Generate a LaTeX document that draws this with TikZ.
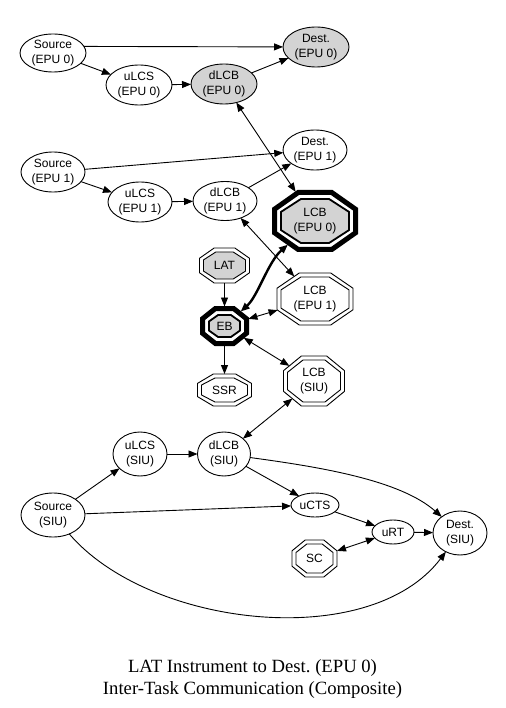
\documentclass[tikz,border=0pt]{standalone}
\usepackage{fontspec}
\setmainfont{Liberation Sans}
\newfontfamily\capfont{Liberation Serif}
\usetikzlibrary{arrows.meta,shapes.geometric}
\frenchspacing
\makeatletter
\pgfdeclareshape{gvoct}{%
  \inheritsavedanchors[from=rectangle]%
  \inheritanchor[from=rectangle]{center}%
  \inheritanchor[from=rectangle]{north}%
  \inheritanchor[from=rectangle]{south}%
  \inheritanchor[from=rectangle]{east}%
  \inheritanchor[from=rectangle]{west}%
  \inheritanchor[from=rectangle]{text}%
  \inheritanchor[from=rectangle]{base}%
  \inheritanchor[from=rectangle]{mid}%
  \backgroundpath{%
    \southwest\edef\gv@xa{\the\pgf@x}\edef\gv@ya{\the\pgf@y}%
    \northeast\edef\gv@xb{\the\pgf@x}\edef\gv@yb{\the\pgf@y}%
    \pgf@xc=\gv@xb\relax\advance\pgf@xc by-\gv@xa\relax\pgf@xc=0.293\pgf@xc
    \pgf@yc=\gv@yb\relax\advance\pgf@yc by-\gv@ya\relax\pgf@yc=0.293\pgf@yc
    \pgf@x=\gv@xa\relax\advance\pgf@x by\pgf@xc\edef\gv@xl{\the\pgf@x}%
    \pgf@x=\gv@xb\relax\advance\pgf@x by-\pgf@xc\edef\gv@xr{\the\pgf@x}%
    \pgf@y=\gv@ya\relax\advance\pgf@y by\pgf@yc\edef\gv@yl{\the\pgf@y}%
    \pgf@y=\gv@yb\relax\advance\pgf@y by-\pgf@yc\edef\gv@yu{\the\pgf@y}%
    \pgfpathmoveto{\pgfqpoint{\gv@xl}{\gv@ya}}%
    \pgfpathlineto{\pgfqpoint{\gv@xr}{\gv@ya}}%
    \pgfpathlineto{\pgfqpoint{\gv@xb}{\gv@yl}}%
    \pgfpathlineto{\pgfqpoint{\gv@xb}{\gv@yu}}%
    \pgfpathlineto{\pgfqpoint{\gv@xr}{\gv@yb}}%
    \pgfpathlineto{\pgfqpoint{\gv@xl}{\gv@yb}}%
    \pgfpathlineto{\pgfqpoint{\gv@xa}{\gv@yu}}%
    \pgfpathlineto{\pgfqpoint{\gv@xa}{\gv@yl}}%
    \pgfpathclose
  }%
  \anchorborder{%
    \edef\gv@dx{\pgf@sys@tonumber\pgf@x}\edef\gv@dy{\pgf@sys@tonumber\pgf@y}%
    \southwest\edef\gv@xa{\pgf@sys@tonumber\pgf@x}\edef\gv@ya{\pgf@sys@tonumber\pgf@y}%
    \northeast\edef\gv@xb{\pgf@sys@tonumber\pgf@x}\edef\gv@yb{\pgf@sys@tonumber\pgf@y}%
    \pgfmathsetmacro\gv@W{((\gv@xb)-(\gv@xa))/2}%
    \pgfmathsetmacro\gv@H{((\gv@yb)-(\gv@ya))/2}%
    \pgfmathsetmacro\gv@cx{0.586*\gv@W}%
    \pgfmathsetmacro\gv@cy{0.586*\gv@H}%
    \pgfmathsetmacro\gv@ax{max(abs(\gv@dx),0.01)}%
    \pgfmathsetmacro\gv@ay{max(abs(\gv@dy),0.01)}%
    \pgfmathsetmacro\gv@t{min(\gv@W/\gv@ax,\gv@H/\gv@ay,(\gv@cy*\gv@W+\gv@cx*\gv@H-\gv@cx*\gv@cy)/(\gv@cy*\gv@ax+\gv@cx*\gv@ay))}%
    \pgfmathsetmacro\gv@rx{((\gv@xa)+(\gv@xb))/2+\gv@t*(\gv@dx)}%
    \pgfmathsetmacro\gv@ry{((\gv@ya)+(\gv@yb))/2+\gv@t*(\gv@dy)}%
    \pgf@x=\gv@rx pt\relax
    \pgf@y=\gv@ry pt\relax
  }%
}
\makeatother
\definecolor{gvgray}{HTML}{D3D3D3}
\tikzset{
  every node/.style={font=\fontsize{12}{14.5}\selectfont, align=center, inner sep=0pt, outer sep=0pt},
  ell/.style 2 args={ellipse, draw, line width=0.9pt, minimum width=#1, minimum height=#2},
  oct/.style 2 args={shape=gvoct, draw, line width=0.9pt, minimum width=#1, minimum height=#2},
  arr/.style={line width=0.9pt, -{Triangle[length=9pt,width=7pt]}},
  barr/.style={line width=0.9pt, {Triangle[length=9pt,width=7pt]}-{Triangle[length=9pt,width=7pt]}},
  capt/.style={font=\capfont\fontsize{18.67}{22}\selectfont, anchor=base},
}
\begin{document}
\begin{tikzpicture}[x=1pt,y=-1pt]
\fill[white] (0,0) rectangle (505,708);
\useasboundingbox (0,0) rectangle (505,708);
% EPU 0
\node[ell={66pt}{38pt}] (s0) at (53,53) {Source\\(EPU 0)};
\node[ell={66pt}{40pt},fill=gvgray] (d0) at (316,47) {Dest.\\(EPU 0)};
\node[ell={66pt}{40pt}] (u0) at (139,85) {uLCS\\(EPU 0)};
\node[ell={66pt}{40pt},fill=gvgray] (l0) at (224,84) {dLCB\\(EPU 0)};
% EPU 1
\node[ell={64pt}{40pt}] (d1) at (315,150) {Dest.\\(EPU 1)};
\node[ell={64pt}{40pt}] (s1) at (53,172) {Source\\(EPU 1)};
\node[ell={64pt}{40pt}] (u1) at (140,202) {uLCS\\(EPU 1)};
\node[ell={64pt}{39pt}] (l1) at (225,201) {dLCB\\(EPU 1)};
% SIU
\node[ell={54pt}{44pt}] (usiu) at (140,454) {uLCS\\(SIU)};
\node[ell={53pt}{44pt}] (lsiu) at (224,454) {dLCB\\(SIU)};
\node[ell={64pt}{44pt}] (ssiu) at (53,515) {Source\\(SIU)};
\node[ell={48pt}{24pt}] (ucts) at (315,505) {uCTS};
\node[ell={42pt}{24pt}] (urt) at (393,532) {uRT};
\node[ell={54pt}{44pt}] (dsiu) at (460,533) {Dest.\\(SIU)};
% octagons
\node[oct={81pt}{57pt}, line width=5pt] (lcb0) at (315,221) {};
\node[oct={68pt}{44pt}, line width=1.8pt, fill=gvgray] (lcb0in) at (315,221) {LCB\\(EPU 0)};
\node[oct={50pt}{35pt}] (lat) at (224.5,265.5) {};
\node[oct={42pt}{27pt}, fill=gvgray] (latin) at (224.5,265.5) {LAT};
\node[oct={44pt}{35pt}, line width=5pt] (eb) at (224.5,326) {};
\node[oct={31pt}{22pt}, line width=1.8pt, fill=gvgray] (ebin) at (224.5,326) {EB};
\node[oct={54pt}{32pt}] (ssr) at (224.5,390) {};
\node[oct={46pt}{24pt}] (ssrin) at (224.5,390) {SSR};
\node[oct={76pt}{52pt}] (lcb1) at (315,299) {};
\node[oct={68pt}{44pt}] (lcb1in) at (315,299) {LCB\\(EPU 1)};
\node[oct={61pt}{50pt}] (lcbs) at (314,381) {};
\node[oct={53pt}{42pt}] (lcbsin) at (314,381) {LCB\\(SIU)};
\node[oct={45pt}{37pt}] (sc) at (314.5,558.5) {};
\node[oct={37pt}{29pt}] (scin) at (314.5,558.5) {SC};
% edges EPU 0
\draw[arr] (s0.12) -- (d0);
\draw[arr] (s0) -- (u0);
\draw[arr] (u0) -- (l0);
\draw[arr] (l0) -- (d0);
\draw[barr, shorten >=2pt] (l0) -- (lcb0);
% edges EPU 1
\draw[arr] (s1) -- (d1);
\draw[arr] (s1) -- (u1);
\draw[arr] (u1) -- (l1);
\draw[arr] (l1) -- (d1);
\draw[barr] (l1) -- (lcb1);
% middle
\draw[arr, shorten >=2pt] (lat) -- (eb);
\draw[barr, line width=2.4pt, shorten <=2pt, shorten >=2pt] (eb) .. controls (258,296) and (268,262) .. (lcb0);
\draw[barr, shorten <=2pt] (eb) -- (lcb1);
\draw[arr, shorten <=2pt] (eb) -- (ssr);
\draw[barr, shorten <=2pt] (eb) -- (lcbs);
\draw[barr] (lsiu) -- (lcbs);
% SIU edges
\draw[arr] (ssiu) -- (usiu);
\draw[arr] (usiu) -- (lsiu);
\draw[arr] (lsiu) -- (ucts);
\draw[arr] (lsiu) .. controls (320,467) and (400,480) .. (dsiu);
\draw[arr] (ssiu) -- (ucts);
\draw[arr] (ssiu) .. controls (150,628) and (370,652) .. (dsiu);
\draw[arr] (ucts) -- (urt);
\draw[arr] (urt) -- (dsiu);
\draw[barr] (sc) -- (urt);
% caption
\node[capt] (cap1) at (252.5,672) {LAT Instrument to Dest. (EPU 0)};
\node[capt] (cap2) at (252.5,694) {Inter-Task Communication (Composite)};
\end{tikzpicture}
\end{document}
